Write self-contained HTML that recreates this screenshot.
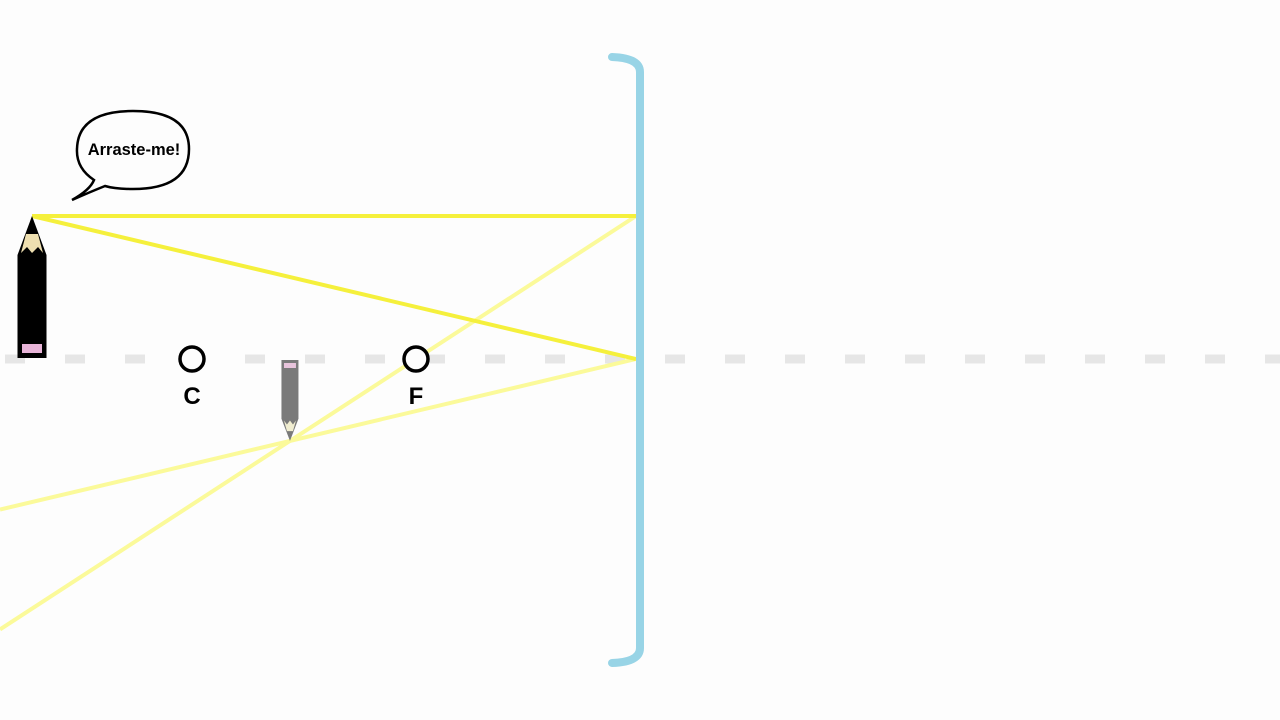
<!DOCTYPE html>
<html><head><meta charset="utf-8"><style>
html,body{margin:0;padding:0;background:#fdfdfd;}
svg{display:block;}
text{font-family:"Liberation Sans",sans-serif;font-weight:bold;}
</style></head><body>
<svg id="s" width="1280" height="720"></svg>
<script>
const mirrorX = [636];
const axisY = [359];
const focalLength = [220];
const objectDistance = [604];
const objectHeight = [143];
const pointLabels = ["C", "F"];

const NS = "http://www.w3.org/2000/svg";
const s = document.getElementById('s');
function mk(tag, attrs, parent) {
  const e = document.createElementNS(NS, tag);
  for (const k in attrs) e.setAttribute(k, attrs[k]);
  (parent || s).appendChild(e);
  return e;
}
const mx = mirrorX[0], ay = axisY[0], f = focalLength[0];
const dO = objectDistance[0], hO = objectHeight[0];
const ox = mx - dO, oy = ay - hO;
const dI = 1 / (1 / f - 1 / dO);
const hI = -hO * dI / dO;
const ix = mx - dI, iy = ay - hI;

let axis = mk('line', {x1: 5, y1: ay, x2: 1280, y2: ay, stroke: '#e6e6e6', 'stroke-width': 9, 'stroke-dasharray': '20 40'});



function extendTo0(x1, y1, x2, y2) { const m = (y2 - y1) / (x2 - x1); return [0, y1 + (0 - x1) * m]; }
let p1 = extendTo0(mx, oy, mx - f, ay);
let r1 = mk('line', {x1: mx, y1: oy, x2: p1[0], y2: p1[1], stroke: '#fbfa9a', 'stroke-width': 4});


let p2 = extendTo0(mx, ay, mx - dO, ay + hO);
let r2 = mk('line', {x1: mx, y1: ay, x2: p2[0], y2: p2[1], stroke: '#fbfa9a', 'stroke-width': 4});



let i1 = mk('line', {x1: ox, y1: oy, x2: mx, y2: oy, stroke: '#f5f03c', 'stroke-width': 4});


let i2 = mk('line', {x1: ox, y1: oy, x2: mx, y2: ay, stroke: '#f5f03c', 'stroke-width': 4});



let mir = mk('path', {d: `M612 57 Q640 58 640 72 L640 648 Q640 662 612 663`, fill: 'none', stroke: '#98d4e6', 'stroke-width': 8, 'stroke-linecap': 'round'});



const pts = [mx - 2 * f - 4, mx - f];
pts.forEach((px, i) => {
  const g = mk('g', {});
  
  
  mk('circle', {cx: px, cy: ay, r: 12, fill: '#fdfdfd', stroke: '#000', 'stroke-width': 3.5}, g);
  const t = mk('text', {x: px, y: ay + 45, 'text-anchor': 'middle', 'font-size': 24}, g);
  t.textContent = pointLabels[i];
});

const og = mk('g', {});


const pw = 29, ph = hO - 1;
mk('path', {d: `M${ox - pw/2} ${oy + 39} L${ox} ${oy} L${ox + pw/2} ${oy + 39} L${ox + pw/2} ${oy + ph} L${ox - pw/2} ${oy + ph} Z`, fill: '#000'}, og);
mk('path', {d: `M${ox - 11} ${oy + 37} L${ox - 6} ${oy + 18} L${ox + 6} ${oy + 18} L${ox + 11} ${oy + 37} L${ox + 6} ${oy + 31} L${ox} ${oy + 37} L${ox - 5} ${oy + 31} Z`, fill: '#eedfb0'}, og);
mk('rect', {x: ox - 10, y: oy + 128, width: 20, height: 9, fill: '#e8b4d8'}, og);

const ig = mk('g', {});


const ih = iy - ay, iw = 17;
mk('path', {d: `M${ix - iw/2} ${ay + 1} L${ix + iw/2} ${ay + 1} L${ix + iw/2} ${iy - ih*0.27} L${ix} ${iy} L${ix - iw/2} ${iy - ih*0.27} Z`, fill: '#7a7a7a'}, ig);
mk('path', {d: `M${ix - 6} ${iy - ih*0.25} L${ix - 3} ${iy - ih*0.12} L${ix + 3} ${iy - ih*0.12} L${ix + 6} ${iy - ih*0.25} L${ix + 3} ${iy - ih*0.2} L${ix} ${iy - ih*0.25} L${ix - 3} ${iy - ih*0.2} Z`, fill: '#f0edd0'}, ig);
mk('rect', {x: ix - 6, y: ay + 4, width: 12, height: 5, fill: '#e8c4dc'}, ig);

const bg = mk('g', {});


mk('path', {d: 'M94 180 Q76 168 77 149 Q78 111 133 111 Q189 111 189 149 Q189 189 133 189 Q115 189 105 186 Q90 192 72 200 Q90 190 94 180 Z', fill: '#fdfdfd', stroke: '#000', 'stroke-width': 2.5}, bg);
const bt = mk('text', {x: 134, y: 155, 'text-anchor': 'middle', 'font-size': 16.5}, bg);
bt.textContent = 'Arraste-me!';
</script>
</body></html>
